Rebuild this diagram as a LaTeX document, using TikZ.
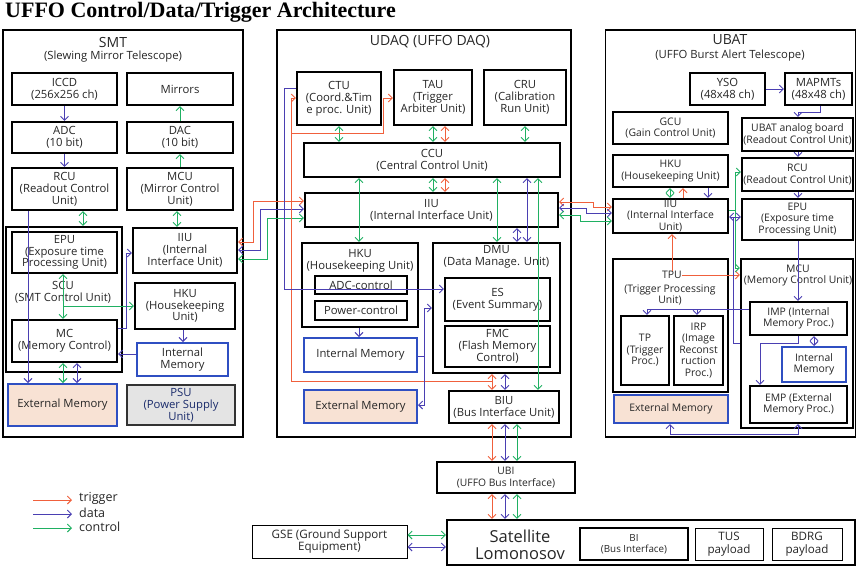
\documentclass[tikz,border=0pt]{standalone}
\usepackage{fontspec}
\setmainfont{Open Sans}
\newfontfamily\headfont{Liberation Serif}
\usetikzlibrary{arrows.meta}

\definecolor{trigc}{HTML}{F0603C}
\definecolor{datc}{HTML}{4A3FB2}
\definecolor{ctlc}{HTML}{1FB062}
\definecolor{memb}{HTML}{2F4FC2}
\definecolor{memfill}{HTML}{F8E2D4}
\definecolor{psufill}{HTML}{E4E4E4}
\definecolor{txt}{HTML}{262626}

\begin{document}
\begin{tikzpicture}[x=1pt,y=-1pt,
  >={Straight Barb[length=4pt,width=8pt]},
  sz/.style 2 args={minimum width=#1pt,minimum height=#2pt},
  fa/.style={font=\fontsize{11.3}{11.8}\selectfont},
  fb/.style={font=\fontsize{10.4}{11.5}\selectfont},
  fc/.style={font=\fontsize{10.3}{11.5}\selectfont},
  fd/.style={font=\fontsize{9.8}{11}\selectfont},
  fe/.style={font=\fontsize{11.6}{12.5}\selectfont},
  fbig/.style={font=\fontsize{14}{16}\selectfont},
  lbl/.style={inner sep=0pt,align=center,text=txt},
  outer/.style={draw=black,line width=1.8pt,inner sep=0pt},
  box/.style={draw=black,line width=2.2pt,inner sep=0pt,align=center,text=txt,fa},
  thin/.style={draw=black,line width=1pt,inner sep=0pt,align=center,text=txt,fe},
  mem/.style={draw=memb,line width=2pt,inner sep=0pt,align=center,text=txt,fa},
  extmem/.style={mem,fill=memfill},
  trig/.style={draw=trigc,line width=0.9pt},
  dat/.style={draw=datc,line width=0.9pt},
  ctl/.style={draw=ctlc,line width=0.9pt}]
\useasboundingbox (0,0) rectangle (857,566);

% ---------- title ----------
\node[anchor=west,inner sep=0pt,font=\headfont\bfseries\fontsize{22}{25}\selectfont] (title) at (5,12.5) {UFFO Control/Data/Trigger Architecture};

% ---------- SMT ----------
\node[outer,sz={240}{407}] (smt) at (123,233.5) {};
\node[lbl,fbig] (smtt) at (113,42) {SMT};
\node[lbl,fa] (smts) at (113,57) {(Slewing Mirror Telescope)};
\node[box,sz={105}{32}] (iccd) at (64.5,89) {ICCD\\(256x256 ch)};
\node[box,sz={106}{32}] (mirrors) at (180,89) {Mirrors};
\node[box,sz={105}{31}] (adc) at (64.5,137.5) {ADC\\(10 bit)};
\node[box,sz={106}{31}] (dac) at (180,137.5) {DAC\\(10 bit)};
\node[box,sz={105}{42}] (rcu) at (64.5,189) {RCU\\(Readout Control\\Unit)};
\node[box,sz={106}{42}] (mcu) at (180,189) {MCU\\(Mirror Control\\Unit)};
\node[box,sz={116}{145}] (scu) at (64,299.5) {};
\node[box,sz={105}{41}] (epu) at (64.5,252.5) {EPU\\(Exposure time\\Processing Unit)};
\node[lbl,fa] (scul) at (63,292.5) {SCU\\(SMT Control Unit)};
\node[box,sz={105}{42}] (mc) at (64.5,341) {MC\\(Memory Control)};
\node[box,sz={104}{45}] (iiusmt) at (185,250.5) {IIU\\(Internal\\Interface Unit)};
\node[box,sz={100}{46}] (hkusmt) at (185,306) {HKU\\(Housekeeping\\Unit)};
\node[mem,sz={91}{33}] (imsmt) at (182.5,359.5) {Internal\\Memory};
\node[extmem,sz={109}{42}] (emsmt) at (62.5,405) {External Memory};
\node[draw=black!80,line width=2pt,fill=psufill,inner sep=0pt,align=center,text=memb!55!black,fa,sz={108}{40}] (psu) at (181,405) {PSU\\(Power Supply\\Unit)};

% ---------- UDAQ ----------
\node[outer,sz={294}{407}] (udaq) at (424,233.5) {};
\node[lbl,fbig] (udaqt) at (430,42) {UDAQ (UFFO DAQ)};
\node[box,sz={84}{53}] (ctu) at (339,98.5) {CTU\\(Coord.\&Tim\\e proc. Unit)};
\node[box,sz={78}{55}] (tau) at (433,97.5) {TAU\\(Trigger\\Arbiter Unit)};
\node[box,sz={82}{55}] (cru) at (525,97.5) {CRU\\(Calibration\\Run Unit)};
\node[box,sz={256}{34}] (ccu) at (432,160) {CCU\\(Central Control Unit)};
\node[box,sz={253}{34}] (iiuudaq) at (431.5,210) {IIU\\(Internal Interface Unit)};
\node[box,sz={116}{84}] (hkuudaq) at (360,285) {};
\node[lbl,fa] (hkuudaql) at (360,260.5) {HKU\\(Housekeeping Unit)};
\node[box,sz={92}{18}] (adcc) at (361,285) {ADC-control};
\node[box,sz={92}{19}] (pwrc) at (361,310.5) {Power-control};
\node[mem,sz={113}{34}] (imudaq) at (360.5,355) {Internal Memory};
\node[extmem,sz={113}{33}] (emudaq) at (360.5,406.5) {External Memory};
\node[box,sz={127}{130}] (dmu) at (496.5,308) {};
\node[lbl,fa] (dmul) at (496.5,257) {DMU\\(Data Manage. Unit)};
\node[box,sz={105}{43}] (es) at (497.5,299.5) {ES\\(Event Summary)};
\node[box,sz={105}{41}] (fmc) at (497.5,346.5) {FMC\\(Flash Memory\\Control)};
\node[box,sz={110}{32}] (biu) at (504,407) {BIU\\(Bus Interface Unit)};

% ---------- bus side ----------
\node[box,fc,sz={138}{31}] (ubi) at (506,477.5) {UBI\\(UFFO Bus Interface)};
\node[box,sz={408}{45}] (sat) at (651,542.5) {};
\node[lbl,font=\fontsize{16.5}{16.5}\selectfont] (satl) at (520,545) {Satellite\\Lomonosov};
\node[box,fd,sz={108}{32}] (bi) at (634,544) {BI\\(Bus Interface)};
\node[thin,sz={68}{32}] (tus) at (729,544) {TUS\\payload};
\node[thin,sz={70}{32}] (bdrg) at (807,544) {BDRG\\payload};
\node[thin,sz={155}{33}] (gse) at (329.5,541.5) {GSE (Ground Support\\Equipment)};

% ---------- UBAT ----------
\node[outer,sz={250}{407}] (ubat) at (730.5,233.5) {};
\node[lbl,fbig] (ubatt) at (730,40) {UBAT};
\node[lbl,fa] (ubats) at (730,56) {(UFFO Burst Alert Telescope)};
\node[box,sz={75}{32}] (yso) at (727.5,89) {YSO\\(48x48 ch)};
\node[box,sz={67}{32}] (mapmt) at (818.5,89) {MAPMTs\\(48x48 ch)};
\node[box,fb,sz={115}{32}] (gcu) at (670.5,128) {GCU\\(Gain Control Unit)};
\node[box,fb,sz={111}{33}] (analog) at (797.5,134.5) {UBAT analog board\\(Readout Control Unit)};
\node[box,fb,sz={115}{32}] (hkuubat) at (670.5,171) {HKU\\(Housekeeping Unit)};
\node[box,fb,sz={111}{33}] (rcuubat) at (797.5,174.5) {RCU\\(Readout Control Unit)};
\node[box,fb,sz={115}{34}] (iiuubat) at (670.5,216) {IIU\\(Internal Interface\\Unit)};
\node[box,fb,sz={111}{41}] (epuubat) at (797.5,219.5) {EPU\\(Exposure time\\Processing Unit)};
\node[box,sz={115}{133}] (tpu) at (670.5,325.5) {};
\node[lbl,fb] (tpul) at (672,275) {TPU};
\node[lbl,fb] (tpus) at (670,295) {(Trigger Processing\\Unit)};
\node[box,fb,sz={48}{69}] (tp) at (645,350.5) {TP\\(Trigger\\Proc.)};
\node[box,fb,sz={49}{69}] (irp) at (698.5,350.5) {IRP\\(Image\\Reconst\\ruction\\Proc.)};
\node[extmem,fb,sz={114}{28}] (emubat) at (671,409) {External Memory};
\node[box,sz={112}{169}] (mcuubat) at (797,343.5) {};
\node[lbl,fb] (mcul) at (798,275.5) {MCU\\(Memory Control Unit)};
\node[box,fb,sz={97}{33}] (imp) at (798.5,318.5) {IMP (Internal\\Memory Proc.)};
\node[mem,fb,sz={64}{35}] (imubat) at (814,364.5) {Internal\\Memory};
\node[box,fb,sz={97}{37}] (emp) at (798.5,404.5) {EMP (External\\Memory Proc.)};

% ---------- legend ----------
\coordinate (lgta) at (33,500); \coordinate (lgtb) at (72,500);
\coordinate (lgda) at (33,514); \coordinate (lgdb) at (72,514);
\coordinate (lgca) at (33,528); \coordinate (lgcb) at (72,528);
\draw[trig,->] (lgta) -- (lgtb);
\draw[dat,->] (lgda) -- (lgdb);
\draw[ctl,->] (lgca) -- (lgcb);
\node[lbl,anchor=west,font=\fontsize{12.5}{14}\selectfont] (lgt) at (79,498.5) {trigger};
\node[lbl,anchor=west,font=\fontsize{12.5}{14}\selectfont] (lgd) at (79,512.5) {data};
\node[lbl,anchor=west,font=\fontsize{12.5}{14}\selectfont] (lgc) at (79,527) {control};

% ---------- SMT connectors ----------
\draw[dat,->] (iccd.south) -- (adc.north);
\draw[dat,->] (adc.south) -- (rcu.north);
\draw[ctl,->] (dac.north) -- (mirrors.south);
\draw[ctl,->] (mcu.north) -- (dac.south);
\draw[ctl,<->] (rcu.south -| 83,0) -- (scu.north -| 83,0);
\draw[ctl,<->] (mcu.south -| 177,0) -- (iiusmt.north -| 177,0);
\draw[dat,->] (rcu.south -| 28,0) -- (emsmt.north -| 28,0);
\draw[ctl,<->] (epu.south -| 63,0) -- (mc.north -| 63,0);
\coordinate (scuj) at (63,306);
\draw[ctl,->] (scuj) -- (hkusmt.west |- scuj);
\draw[dat,->] (hkusmt.south -| 183,0) -- (imsmt.north -| 183,0);
\draw[dat,->] (imsmt.west |- 0,354) -- (mc.east |- 0,354);
\draw[dat,->] (mc.east |- 0,328) -- ++(8,0) |- (iiusmt.west |- 0,253);
\draw[ctl,<->] (mc.south -| 63,0) -- (emsmt.north -| 63,0);
\draw[dat,<->] (mc.south -| 77,0) -- (emsmt.north -| 77,0);

% ---------- SMT <-> UDAQ ----------
\draw[trig,<->] (iiusmt.east |- 0,242) -| (253,201) -- (iiuudaq.west |- 0,201);
\draw[dat,<->] (iiusmt.east |- 0,250) -| (260,209) -- (iiuudaq.west |- 0,209);
\draw[ctl,<->] (iiusmt.east |- 0,259) -| (267,218) -- (iiuudaq.west |- 0,218);

% ---------- UDAQ connectors ----------
\draw[ctl,<->] (ctu.south) -- (ccu.north -| ctu.south);
\draw[ctl,<->] (tau.south -| 433,0) -- (ccu.north -| 433,0);
\draw[trig,<->] (tau.south -| 445,0) -- (ccu.north -| 445,0);
\draw[ctl,<->] (cru.south) -- (ccu.north -| cru.south);
\draw[ctl,<->] (ccu.south -| 433,0) -- (iiuudaq.north -| 433,0);
\draw[trig,<->] (ccu.south -| 445,0) -- (iiuudaq.north -| 445,0);
\draw[ctl,<->] (ccu.south -| 359,0) -- (hkuudaq.north -| 359,0);
\draw[ctl,<->] (ccu.south -| 497,0) -- (dmu.north -| 497,0);
\draw[dat,<->] (ccu.south -| 527,0) -- (dmu.north -| 527,0);
\draw[dat,<->] (iiuudaq.south -| 517,0) -- (dmu.north -| 517,0);
\draw[ctl,<->] (ccu.south -| 538,0) -- (biu.north -| 538,0);
\draw[trig,<->] (dmu.south -| 492,0) -- (biu.north -| 492,0);
\draw[dat,<->] (dmu.south -| 505,0) -- (biu.north -| 505,0);
\coordinate (trigbus) at (492,381);
\coordinate (trigsplit) at (291,133);
\draw[trig,->] (trigbus) -| (291,98) -- (ctu.west |- 0,98);
\draw[trig,->] (trigsplit) -| (383,98) -- (tau.west |- 0,98);
\draw[dat,->] (ctu.west |- 0,88) -| (284,289) -- (es.west |- 0,289);
\draw[dat,->] (hkuudaq.south -| 359,0) -- (imudaq.north -| 359,0);
\coordinate (imj) at (424,356);
\draw[dat,->] (imudaq.east |- imj) -| (424,308) -- (dmu.west |- 0,308);
\draw[dat,->] (imj) |- (emudaq.east |- 0,405);

% ---------- bus connectors ----------
\draw[trig,<->] (biu.south -| 492,0) -- (ubi.north -| 492,0);
\draw[dat,<->] (biu.south -| 505,0) -- (ubi.north -| 505,0);
\draw[ctl,<->] (biu.south -| 517,0) -- (ubi.north -| 517,0);
\draw[trig,<->] (ubi.south -| 492,0) -- (sat.north -| 492,0);
\draw[dat,<->] (ubi.south -| 505,0) -- (sat.north -| 505,0);
\draw[ctl,<->] (ubi.south -| 517,0) -- (sat.north -| 517,0);
\draw[ctl,<->] (gse.east |- 0,535) -- (sat.west |- 0,535);
\draw[dat,<->] (gse.east |- 0,547) -- (sat.west |- 0,547);

% ---------- UDAQ <-> UBAT ----------
\draw[trig,<->] (iiuudaq.east |- 0,202) -| (593,207) -- (iiuubat.west |- 0,207);
\draw[dat,<->] (iiuudaq.east |- 0,208) -| (586,213) -- (iiuubat.west |- 0,213);
\draw[ctl,<->] (iiuudaq.east |- 0,215) -| (580,221) -- (iiuubat.west |- 0,221);

% ---------- UBAT connectors ----------
\draw[dat,->] (yso.east) -- (mapmt.west);
\draw[dat,->] (mapmt.south -| 820,0) -- ++(0,6) -| (analog.north -| 798,0);
\draw[dat,->] (analog.south -| 798,0) -- (rcuubat.north -| 798,0);
\draw[dat,->] (rcuubat.south -| 798,0) -- (epuubat.north -| 798,0);
\draw[dat,->] (epuubat.south -| 798,0) -- (imp.north -| 798,0);
\draw[ctl,<->] (hkuubat.south -| 670,0) -- (iiuubat.north -| 670,0);
\draw[trig,->] (iiuubat.north -| 683,0) -- (hkuubat.south -| 683,0);
\draw[dat,->] (hkuubat.south -| 708,0) -- (iiuubat.north -| 708,0);
\draw[trig,->] (tpul.north) -- (iiuubat.south -| tpul.north);
\draw[trig,->] (tpul.east) -- (mcuubat.west |- tpul.east);
\coordinate (ctlj) at (735,210);
\draw[ctl,->] (iiuubat.east |- ctlj) -- (ctlj) |- (rcuubat.west |- 0,172);
\draw[ctl,->] (ctlj) |- (mcuubat.west |- 0,268);
\draw[dat,<->] (iiuubat.east |- 0,217) -- (epuubat.west |- 0,217);
\coordinate (datj) at (733,217);
\draw[dat] (datj) |- (mcuubat.west |- 0,343);
\draw[dat,->] (imp.west |- 0,309) -| (tp.north -| 647,0);
\draw[dat,->] (697,309) -- (irp.north -| 697,0);
\draw[dat,<->] (imp.south -| 814,0) -- (imubat.north -| 814,0);
\draw[dat,->] (imp.south -| 798,0) -- ++(0,7) -| (emp.north -| 760,0);
\draw[dat,<->] (emp.south -| 798,0) -- ++(0,10) -| (emubat.south -| 670,0);
\end{tikzpicture}
\end{document}
